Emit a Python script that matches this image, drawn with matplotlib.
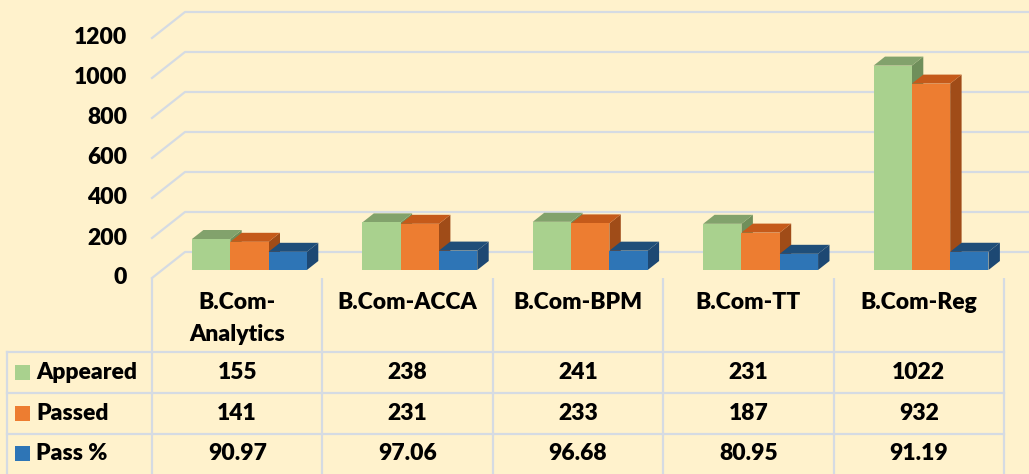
import matplotlib.pyplot as plt
from matplotlib.patches import Polygon, Rectangle

# data
categories = ['B.Com-\nAnalytics', 'B.Com-ACCA', 'B.Com-BPM', 'B.Com-TT', 'B.Com-Reg']
series_names = ['Appeared', 'Passed', 'Pass %']
appeared = [155, 238, 241, 231, 1022]
passed = [141, 231, 233, 187, 932]
pass_pct = [90.97, 97.06, 96.68, 80.95, 91.19]
yticks = [0, 200, 400, 600, 800, 1000, 1200]

front_colors = ['#A9D18E', '#ED7D31', '#2E75B6']
top_colors = ['#82A26C', '#C55A1A', '#1F4E79']
side_colors = ['#6F8F5B', '#A04C18', '#1D4873']

BG = '#FFF2CC'
GRID = '#D5DBE3'
FONT = 'Lato'
WEIGHT = 'heavy'
FS = 16.5

W, H, DPI = 1029, 474, 100
COL = 170.4          # px per category column
X0 = 152             # px of left edge of first column
PX_PER_UNIT = 0.2    # px per value unit
FLOOR_PX = 278       # px of value 0 on front plane

DX = 33 / COL        # depth offset of the back wall (category units)
DY = 26 / PX_PER_UNIT  # depth offset of the back wall (value units)
T_FRONT = 8 / 26     # bar front depth
T_BACK = T_FRONT + 9 / 26
BAR_W = 38.3 / COL
GROUP_OFF = 0.175


def proj(x, v, t):
    return (x + t * DX, v + t * DY)


def draw_bar(ax, left, value, j):
    r = left + BAR_W
    front = [proj(left, 0, T_FRONT), proj(r, 0, T_FRONT), proj(r, value, T_FRONT), proj(left, value, T_FRONT)]
    top = [proj(left, value, T_FRONT), proj(r, value, T_FRONT), proj(r, value, T_BACK), proj(left, value, T_BACK)]
    side = [proj(r, 0, T_FRONT), proj(r, value, T_FRONT), proj(r, value, T_BACK), proj(r, 0, T_BACK)]
    ax.add_patch(Polygon(side, closed=True, facecolor=side_colors[j], edgecolor='none'))
    ax.add_patch(Polygon(top, closed=True, facecolor=top_colors[j], edgecolor='none'))
    ax.add_patch(Polygon(front, closed=True, facecolor=front_colors[j], edgecolor='none'))


fig = plt.figure(figsize=(W / DPI, H / DPI), dpi=DPI)
fig.patch.set_facecolor(BG)

xl = (-X0 / COL, (W - X0) / COL)

# chart area
ax = fig.add_axes([0, 1 - FLOOR_PX / H, 1, FLOOR_PX / H])
ax.set_xlim(*xl)
ax.set_ylim(0, FLOOR_PX / PX_PER_UNIT)
ax.axis('off')

for v in yticks:
    ax.plot([0, DX, xl[1]], [v, v + DY, v + DY], color=GRID, lw=1.6, clip_on=False, zorder=1)
    ax.text((127 - X0) / COL, v, str(v), ha='right', va='center', fontsize=FS,
            fontweight=WEIGHT, family=FONT, clip_on=False)

series = [appeared, passed, pass_pct]
for i in range(len(categories)):
    for j, vals in enumerate(series):
        draw_bar(ax, i + GROUP_OFF + j * BAR_W, vals[i], j)

# data table (y in pixels from the top of the image)
tb = fig.add_axes([0, 0, 1, (H - FLOOR_PX) / H])
tb.set_xlim(*xl)
tb.set_ylim(H, FLOOR_PX)
tb.axis('off')

rows = [352, 393, 434, 474]
left_edge = (7 - X0) / COL
n = len(categories)

for y in rows[:-1]:
    tb.plot([left_edge, n], [y, y], color=GRID, lw=1.6, clip_on=False)
tb.plot([left_edge, left_edge], [rows[0], H], color=GRID, lw=1.6)
for k in range(n + 1):
    tb.plot([k, k], [FLOOR_PX, H], color=GRID, lw=1.6)

for i, cat in enumerate(categories):
    for li, line in enumerate(cat.split('\n')):
        tb.text(i + 0.5, 303 + li * 32, line, ha='center', va='center', fontsize=FS,
                fontweight=WEIGHT, family=FONT)

labels = [[str(v) for v in appeared], [str(v) for v in passed], ['%.2f' % v for v in pass_pct]]
for r, name in enumerate(series_names):
    yc = (rows[r] + rows[r + 1]) / 2
    tb.add_patch(Rectangle(((15 - X0) / COL, yc - 7.5), 15 / COL, 15, facecolor=front_colors[r],
                           edgecolor='none'))
    tb.text((36 - X0) / COL, yc, name, ha='left', va='center', fontsize=FS,
            fontweight=WEIGHT, family=FONT)
    for i in range(n):
        tb.text(i + 0.5, yc, labels[r][i], ha='center', va='center', fontsize=FS,
                fontweight=WEIGHT, family=FONT)

fig.savefig('out.png', dpi=DPI, facecolor=BG)
